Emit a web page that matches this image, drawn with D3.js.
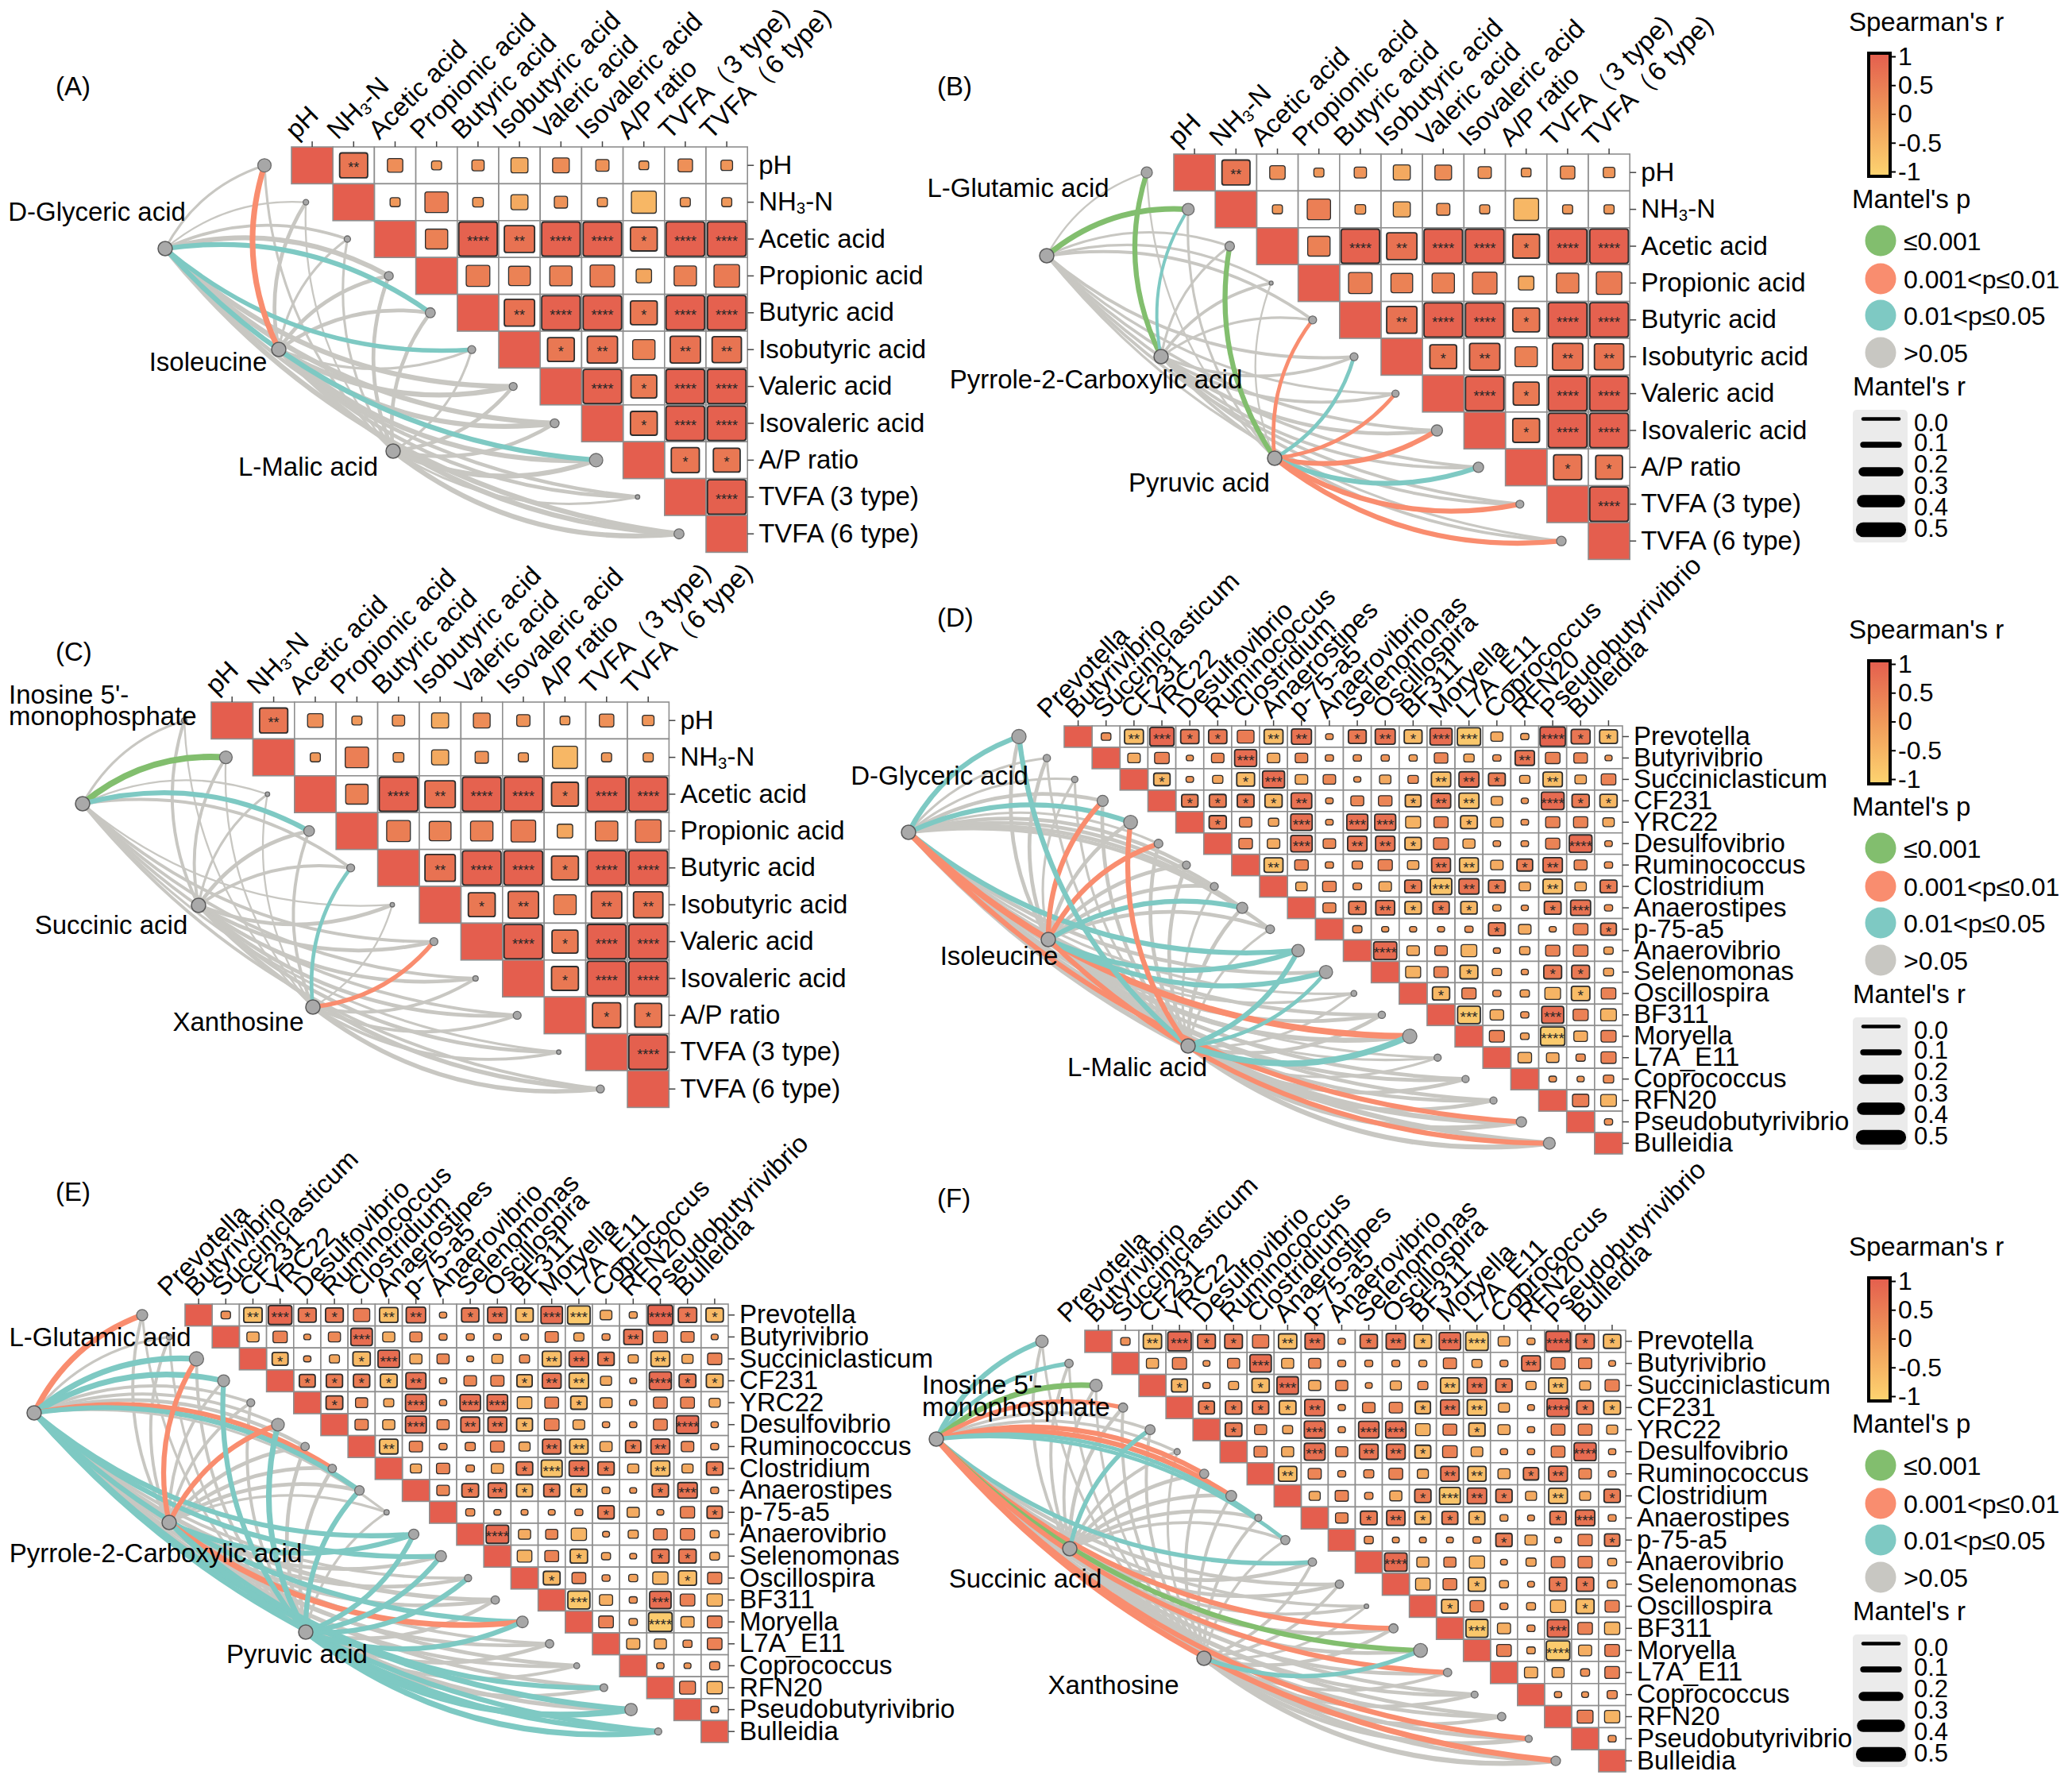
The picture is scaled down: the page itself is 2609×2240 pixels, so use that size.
<!DOCTYPE html>
<html>
<head>
<meta charset="utf-8">
<script src="https://cdn.jsdelivr.net/npm/d3@7"></script>
<style>
  body { margin: 0; background: #fff; }
  svg { font-family: "Liberation Sans", Arial, sans-serif; }
</style>
</head>
<body>
<svg id="chart" width="2609" height="2240"></svg>
<script>
// ---- heatmap variables ----
var envNames = ["pH", "NH3-N", "Acetic acid", "Propionic acid", "Butyric acid", "Isobutyric acid",
  "Valeric acid", "Isovaleric acid", "A/P ratio", "TVFA (3 type)", "TVFA (6 type)"];
var envColNames = ["pH", "NH3-N", "Acetic acid", "Propionic acid", "Butyric acid", "Isobutyric acid",
  "Valeric acid", "Isovaleric acid", "A/P ratio", "TVFA\uFF083 type)", "TVFA\uFF086 type)"];
var genusNames = ["Prevotella", "Butyrivibrio", "Succiniclasticum", "CF231", "YRC22", "Desulfovibrio",
  "Ruminococcus", "Clostridium", "Anaerostipes", "p-75-a5", "Anaerovibrio", "Selenomonas", "Oscillospira",
  "BF311", "Moryella", "L7A_E11", "Coprococcus", "RFN20", "Pseudobutyrivibrio", "Bulleidia"];

// Spearman's r, upper triangle (row i, columns i+1..n-1)
var envR = [
  [0.6, 0.2, 0.03, 0.1, -0.25, 0.24, 0.13, 0.02, 0.17, 0.08],
  [0.03, 0.45, 0.05, -0.25, 0.13, 0.03, -0.5, 0.03, 0.03],
  [0.42, 0.93, 0.67, 0.93, 0.93, 0.56, 0.95, 0.95],
  [0.46, 0.4, 0.42, 0.49, -0.2, 0.42, 0.52],
  [0.67, 0.93, 0.93, 0.56, 0.95, 0.95],
  [0.56, 0.67, 0.42, 0.67, 0.64],
  [0.93, 0.53, 0.95, 0.95],
  [0.56, 0.95, 0.95],
  [0.6, 0.56],
  [0.97]
];
// number of significance stars
var envStars = [
  [2, 0, 0, 0, 0, 0, 0, 0, 0, 0],
  [0, 0, 0, 0, 0, 0, 0, 0, 0],
  [0, 4, 2, 4, 4, 1, 4, 4],
  [0, 0, 0, 0, 0, 0, 0],
  [2, 4, 4, 1, 4, 4],
  [1, 2, 0, 2, 2],
  [4, 1, 4, 4],
  [1, 4, 4],
  [1, 1],
  [4]
];

var genusR = [
  [0.17, -0.6, 0.85, 0.57, 0.57, 0.5, -0.6, 0.65, 0.07, 0.55, 0.65, -0.55, 0.75, -0.8, -0.28, -0.1, 0.9, 0.6, -0.55],
  [-0.3, 0.4, 0.05, 0.3, 0.75, -0.3, 0.3, 0.1, 0.1, 0.1, -0.1, 0.35, -0.2, 0.1, 0.62, 0.4, 0.35, 0.05],
  [-0.48, 0.07, -0.2, -0.55, 0.75, -0.3, 0.3, 0.05, -0.25, 0.2, -0.62, 0.65, 0.5, -0.2, -0.62, -0.25, 0.4],
  [0.48, 0.5, 0.5, -0.52, 0.68, 0.07, 0.32, 0.35, -0.45, 0.62, -0.65, -0.25, 0.05, 0.78, 0.52, -0.52],
  [0.52, 0.3, -0.2, 0.72, 0.07, 0.7, 0.7, -0.42, 0.38, -0.5, -0.3, 0.07, 0.38, 0.38, -0.25],
  [0.35, -0.3, 0.72, 0.3, 0.62, 0.62, -0.48, 0.42, -0.28, 0.07, 0.07, 0.38, 0.78, 0.07],
  [-0.6, 0.35, 0.1, 0.2, 0.38, -0.25, 0.6, -0.6, -0.3, 0.45, 0.62, 0.32, 0.1],
  [-0.25, 0.35, 0.12, -0.3, 0.5, -0.72, 0.65, 0.5, -0.25, -0.62, -0.25, 0.5],
  [0.32, 0.52, 0.6, -0.48, 0.48, -0.48, -0.1, 0.05, 0.5, 0.65, 0.1],
  [0.15, 0.05, 0.05, 0.05, 0.1, 0.5, -0.3, 0.05, 0.4, 0.45],
  [0.8, -0.3, 0.3, -0.45, 0.05, -0.2, 0.38, 0.4, -0.15],
  [-0.42, 0.38, -0.55, -0.15, 0.05, 0.55, 0.55, -0.18],
  [-0.52, 0.38, 0.1, -0.15, -0.45, -0.58, 0.4],
  [-0.78, -0.35, 0.1, 0.75, 0.42, -0.45],
  [0.42, -0.12, -0.85, -0.35, 0.42],
  [-0.35, -0.3, 0.15, 0.42],
  [0.07, 0.05, 0.2],
  [0.48, -0.45],
  [0.1]
];
var genusStars = [
  [0, 2, 3, 1, 1, 0, 2, 2, 0, 1, 2, 1, 3, 3, 0, 0, 4, 1, 1],
  [0, 0, 0, 0, 3, 0, 0, 0, 0, 0, 0, 0, 0, 0, 2, 0, 0, 0],
  [1, 0, 0, 1, 3, 0, 0, 0, 0, 0, 2, 2, 1, 0, 2, 0, 0],
  [1, 1, 1, 1, 2, 0, 0, 0, 1, 2, 2, 0, 0, 4, 1, 1],
  [1, 0, 0, 3, 0, 3, 3, 0, 0, 1, 0, 0, 0, 0, 0],
  [0, 0, 3, 0, 2, 2, 1, 0, 0, 0, 0, 0, 4, 0],
  [2, 0, 0, 0, 0, 0, 2, 2, 0, 1, 2, 0, 0],
  [0, 0, 0, 0, 1, 3, 2, 1, 0, 2, 0, 1],
  [0, 1, 2, 1, 1, 1, 0, 0, 1, 3, 0],
  [0, 0, 0, 0, 0, 1, 0, 0, 0, 1],
  [4, 0, 0, 0, 0, 0, 0, 0, 0],
  [0, 0, 1, 0, 0, 1, 1, 0],
  [1, 0, 0, 0, 0, 1, 0],
  [3, 0, 0, 3, 0, 0],
  [0, 0, 4, 0, 0],
  [0, 0, 0, 0],
  [0, 0, 0],
  [0, 0],
  [0]
];

// ---- Mantel test results: r per link, p class (0: <=0.001, 1: <=0.01, 2: <=0.05, 3: >0.05) ----
var sourcesA = ["D-Glyceric acid", "Isoleucine", "L-Malic acid"];
var mantelR_A = [
  [0.1, 0.05, 0.15, 0.3, 0.3, 0.25, 0.3, 0.3, 0.3, 0.2, 0.3],
  [0.35, 0.2, 0.1, 0.2, 0.2, 0.1, 0.3, 0.3, 0.3, 0.2, 0.3],
  [0.1, 0.05, 0.1, 0.2, 0.2, 0.1, 0.2, 0.2, 0.3, 0.1, 0.3]
];
var mantelP_A = [
  [3, 3, 3, 3, 2, 2, 3, 3, 2, 3, 3],
  [1, 3, 3, 3, 3, 3, 3, 3, 3, 3, 3],
  [3, 3, 3, 3, 3, 3, 3, 3, 3, 3, 3]
];
var sourcesB = ["L-Glutamic acid", "Pyrrole-2-Carboxylic acid", "Pyruvic acid"];
var mantelR_B = [
  [0.05, 0.35, 0.1, 0.1, 0.15, 0.15, 0.1, 0.15, 0.15, 0.15, 0.1],
  [0.3, 0.15, 0.1, 0.15, 0.1, 0.15, 0.15, 0.2, 0.15, 0.15, 0.15],
  [0.05, 0.1, 0.3, 0.05, 0.2, 0.2, 0.2, 0.3, 0.3, 0.3, 0.3]
];
var mantelP_B = [
  [3, 0, 3, 3, 3, 3, 3, 3, 3, 3, 3],
  [0, 2, 3, 3, 3, 3, 3, 3, 3, 3, 3],
  [3, 3, 0, 3, 1, 2, 1, 1, 2, 1, 1]
];
var sourcesC = ["Inosine 5'-monophosphate", "Succinic acid", "Xanthosine"];
var mantelR_C = [
  [0.1, 0.4, 0.05, 0.3, 0.15, 0.05, 0.15, 0.15, 0.15, 0.1, 0.15],
  [0.15, 0.15, 0.1, 0.2, 0.15, 0.2, 0.2, 0.2, 0.2, 0.2, 0.25],
  [0.05, 0.05, 0.05, 0.15, 0.2, 0.05, 0.25, 0.15, 0.15, 0.15, 0.25]
];
var mantelP_C = [
  [3, 0, 3, 2, 3, 3, 3, 3, 3, 3, 3],
  [3, 3, 3, 3, 3, 3, 3, 3, 3, 3, 3],
  [3, 3, 3, 3, 2, 3, 1, 3, 3, 3, 3]
];
var mantelR_D = [
  [0.3, 0.1, 0.1, 0.2, 0.3, 0.1, 0.2, 0.2, 0.2, 0.2, 0.3, 0.2, 0.1, 0.2, 0.4, 0.1, 0.2, 0.2, 0.3, 0.3],
  [0.2, 0.2, 0.1, 0.3, 0.2, 0.3, 0.2, 0.2, 0.3, 0.2, 0.3, 0.3, 0.1, 0.2, 0.3, 0.1, 0.2, 0.2, 0.3, 0.3],
  [0.3, 0.1, 0.1, 0.2, 0.3, 0.2, 0.2, 0.1, 0.2, 0.1, 0.3, 0.2, 0.1, 0.2, 0.4, 0.1, 0.2, 0.2, 0.3, 0.3]
];
var mantelP_D = [
  [2, 3, 3, 3, 2, 3, 3, 3, 3, 3, 2, 3, 3, 3, 1, 3, 3, 3, 1, 3],
  [3, 3, 3, 1, 3, 1, 3, 3, 2, 3, 2, 2, 3, 3, 3, 3, 3, 3, 3, 1],
  [2, 3, 3, 3, 1, 3, 3, 3, 3, 3, 2, 2, 3, 3, 2, 3, 3, 3, 3, 3]
];
var mantelR_E = [
  [0.35, 0.1, 0.35, 0.35, 0.15, 0.15, 0.2, 0.3, 0.3, 0.1, 0.3, 0.3, 0.15, 0.25, 0.3, 0.15, 0.2, 0.2, 0.35, 0.3],
  [0.15, 0.15, 0.3, 0.15, 0.15, 0.3, 0.2, 0.2, 0.2, 0.1, 0.3, 0.2, 0.2, 0.2, 0.35, 0.2, 0.2, 0.3, 0.25, 0.3],
  [0.1, 0.1, 0.15, 0.3, 0.15, 0.35, 0.2, 0.2, 0.3, 0.1, 0.3, 0.3, 0.3, 0.2, 0.3, 0.2, 0.15, 0.2, 0.4, 0.35]
];
var mantelP_E = [
  [1, 3, 2, 2, 3, 3, 3, 1, 2, 3, 2, 2, 3, 3, 2, 3, 3, 3, 2, 2],
  [3, 3, 1, 3, 3, 1, 3, 3, 3, 3, 2, 3, 3, 3, 1, 3, 3, 2, 3, 2],
  [3, 3, 3, 2, 3, 2, 3, 3, 2, 3, 2, 2, 2, 3, 2, 3, 3, 3, 2, 2]
];
var mantelR_F = [
  [0.3, 0.25, 0.35, 0.25, 0.15, 0.15, 0.3, 0.3, 0.2, 0.2, 0.25, 0.2, 0.15, 0.3, 0.3, 0.3, 0.2, 0.2, 0.3, 0.35],
  [0.15, 0.15, 0.15, 0.2, 0.25, 0.15, 0.2, 0.2, 0.2, 0.15, 0.2, 0.2, 0.15, 0.2, 0.2, 0.2, 0.2, 0.2, 0.25, 0.25],
  [0.1, 0.1, 0.1, 0.15, 0.15, 0.1, 0.15, 0.15, 0.15, 0.1, 0.15, 0.15, 0.1, 0.2, 0.25, 0.15, 0.2, 0.2, 0.25, 0.3]
];
var mantelP_F = [
  [2, 2, 0, 1, 3, 3, 1, 1, 2, 2, 2, 3, 3, 1, 0, 1, 3, 3, 1, 1],
  [3, 3, 3, 3, 2, 3, 3, 3, 3, 3, 3, 3, 3, 3, 3, 3, 3, 3, 3, 3],
  [3, 3, 3, 3, 3, 3, 3, 3, 3, 3, 3, 3, 3, 3, 2, 3, 3, 3, 3, 3]
];

// end-node sizes (radius)
var dotA = [8.4, 3.5, 4, 5.6, 6.3, 5, 5, 5.6, 8.4, 2.8, 6.3];
var dotB = [7, 7.5, 6, 2.5, 5, 5, 4.5, 7, 6.5, 5, 6];
var dotC = [3.4, 8, 2.8, 6.7, 5, 2.8, 5, 3.4, 5, 2.8, 5];
var dotD = [9, 4.6, 4, 7, 8.7, 5.5, 5, 5, 7, 5.5, 7.8, 8.3, 3.7, 4.6, 9, 4.5, 4.5, 4.5, 6.5, 7.5];
var dotE = [7, 3.7, 9, 7.5, 5, 8, 5.3, 5.3, 6, 3.3, 6.5, 7, 4.5, 5.3, 7.3, 5.3, 3.7, 4.9, 7.8, 4.5];
var dotF = [7.8, 5.3, 7.8, 5.8, 6.3, 3.9, 5.8, 6.8, 4.4, 5.8, 5.3, 5.3, 2.9, 5.8, 8.7, 5.3, 4.4, 5.3, 4.5, 6];

// legend content
var barTicks = [1, 0.5, 0, -0.5, -1];
var pLabels = ["\u22640.001", "0.001<p\u22640.01", "0.01<p\u22640.05", ">0.05"];
var rKeys = [0, 0.1, 0.25, 0.4, 0.5];
var rKeyLabels = ["0.0", "0.1", "0.2", "0.3", "0.4", "0.5"];

// ---- styles ----
var color = d3.scaleLinear().domain([-1, 0, 1]).range(["#FDD470", "#F09A5A", "#E45E4E"]).clamp(true);
var pColors = ["#82BE6E", "#F98D6F", "#7EC9C3", "#C8C7C2"];
var linkWidth = d3.scaleLinear().domain([0, 0.5]).range([1.5, 9.5]);
var keyWidth = d3.scaleLinear().domain([0, 0.5]).range([4.6, 18.3]);

var svg = d3.select("#chart");

var grad = svg.append("defs").append("linearGradient")
  .attr("id", "spGrad").attr("x1", 0).attr("y1", 1).attr("x2", 0).attr("y2", 0);
[-1, -0.5, 0, 0.5, 1].forEach(function (v) {
  grad.append("stop").attr("offset", (v + 1) / 2).attr("stop-color", color(v));
});

// layout of the six panels
var panels = [
  { tag: "(A)", tx: 70, ty: 120, x0: 367, y0: 185, cw: 52.2, rh: 46.4, lx: -20, ly: -8, sfs: 18, endOff: 34,
    rows: envNames, cols: envColNames, r: envR, stars: envStars,
    src: [[208, 313], [351, 440], [495, 568]], mr: mantelR_A, mp: mantelP_A, dots: dotA,
    labels: [[sourcesA[0], 122, 278, "middle"], [sourcesA[1], 262, 467, "middle"], [sourcesA[2], 388, 599, "middle"]] },
  { tag: "(B)", tx: 1180, ty: 120, x0: 1478, y0: 194, cw: 52.2, rh: 46.4, lx: -20, ly: -8, sfs: 18, endOff: 34,
    rows: envNames, cols: envColNames, r: envR, stars: envStars,
    src: [[1318, 322], [1462, 449], [1605, 577]], mr: mantelR_B, mp: mantelP_B, dots: dotB,
    labels: [[sourcesB[0], 1282, 248, "middle"], [sourcesB[1], 1380, 489, "middle"], [sourcesB[2], 1510, 619, "middle"]] },
  { tag: "(C)", tx: 70, ty: 832, x0: 266, y0: 884, cw: 52.4, rh: 46.4, lx: -20, ly: -8, sfs: 18, endOff: 34,
    rows: envNames, cols: envColNames, r: envR, stars: envStars,
    src: [[104, 1012], [250, 1140], [394, 1268]], mr: mantelR_C, mp: mantelP_C, dots: dotC,
    labels: [["Inosine 5'-", 11, 886, "start"], ["monophosphate", 11, 913, "start"], [sourcesC[1], 140, 1176, "middle"], [sourcesC[2], 300, 1298, "middle"]] },
  { tag: "(D)", tx: 1180, ty: 789, x0: 1340, y0: 914, cw: 35.15, rh: 26.95, lx: -38, ly: -8, sfs: 19, endOff: 57,
    rows: genusNames, cols: genusNames, r: genusR, stars: genusStars,
    src: [[1144, 1048], [1320, 1183], [1496, 1317]], mr: mantelR_D, mp: mantelP_D, dots: dotD,
    labels: [[sourcesA[0], 1183, 988, "middle"], [sourcesA[1], 1258, 1215, "middle"], [sourcesA[2], 1432, 1355, "middle"]] },
  { tag: "(E)", tx: 70, ty: 1512, x0: 233, y0: 1642, cw: 34.2, rh: 27.6, lx: -38, ly: -8, sfs: 19, endOff: 54,
    rows: genusNames, cols: genusNames, r: genusR, stars: genusStars,
    src: [[43, 1779], [213, 1917], [385, 2055]], mr: mantelR_E, mp: mantelP_E, dots: dotE,
    labels: [[sourcesB[0], 126, 1695, "middle"], [sourcesB[1], 196, 1967, "middle"], [sourcesB[2], 374, 2094, "middle"]] },
  { tag: "(F)", tx: 1180, ty: 1520, x0: 1366, y0: 1675, cw: 34.05, rh: 27.8, lx: -38, ly: -8, sfs: 19, endOff: 54,
    rows: genusNames, cols: genusNames, r: genusR, stars: genusStars,
    src: [[1179, 1812], [1347, 1950], [1516, 2088]], mr: mantelR_F, mp: mantelP_F, dots: dotF,
    labels: [["Inosine 5'-", 1161, 1755, "start"], ["monophosphate", 1161, 1783, "start"], [sourcesC[1], 1291, 1999, "middle"], [sourcesC[2], 1402, 2133, "middle"]] }
];

var FS = 33;

// write "NH3-N" with a subscript 3
function setLabel(sel, s, fs) {
  sel.text(null);
  if (s.indexOf("NH3") === 0) {
    sel.append("tspan").text("NH");
    sel.append("tspan").text("3").attr("font-size", fs * 0.62).attr("dy", fs * 0.12);
    sel.append("tspan").text(s.slice(3)).attr("dy", -fs * 0.12);
  } else {
    sel.text(s);
  }
}

function curvePath(sx, sy, ex, ey, upper) {
  var dx = ex - sx, dy = ey - sy;
  var px = upper ? dy : -dy, py = upper ? -dx : dx;
  var k = 0.2;
  var cx = (sx + ex) / 2 + px * k, cy = (sy + ey) / 2 + py * k;
  var p = d3.path();
  p.moveTo(sx, sy);
  p.quadraticCurveTo(cx, cy, ex, ey);
  return p.toString();
}

function drawPanel(P) {
  var g = svg.append("g");
  var n = P.rows.length;
  var x = d3.scaleBand().domain(d3.range(n)).range([P.x0, P.x0 + n * P.cw]);
  var y = d3.scaleBand().domain(d3.range(n)).range([P.y0, P.y0 + n * P.rh]);

  // panel tag
  g.append("text").attr("x", P.tx).attr("y", P.ty).attr("font-size", FS).text(P.tag);

  // mantel links, grey ones underneath
  var links = [];
  P.mr.forEach(function (row, s) {
    row.forEach(function (r, t) { links.push({ s: s, t: t, r: r, p: P.mp[s][t] }); });
  });
  links.sort(function (a, b) { return (a.p === 3 ? 0 : 1) - (b.p === 3 ? 0 : 1); });

  var ex = function (t) { return x(t) - P.endOff; };
  var ey = function (t) { return y(t) + y.bandwidth() / 2; };

  g.append("g").selectAll("path").data(links).join("path")
    .attr("d", function (d) {
      return curvePath(P.src[d.s][0], P.src[d.s][1], ex(d.t), ey(d.t), d.t < (n - 1) / 2);
    })
    .attr("fill", "none")
    .attr("stroke", function (d) { return pColors[d.p]; })
    .attr("stroke-width", function (d) { return linkWidth(d.r); });

  // end nodes
  g.append("g").selectAll("circle").data(P.dots).join("circle")
    .attr("cx", function (d, i) { return ex(i); })
    .attr("cy", function (d, i) { return ey(i); })
    .attr("r", function (d) { return d; })
    .attr("fill", "#A7A7A7").attr("stroke", "#6a6a6a").attr("stroke-width", 1.3);

  // source nodes
  g.append("g").selectAll("circle").data(P.src).join("circle")
    .attr("cx", function (d) { return d[0]; })
    .attr("cy", function (d) { return d[1]; })
    .attr("r", 9)
    .attr("fill", "#A9A9A9").attr("stroke", "#595959").attr("stroke-width", 1.5);

  g.append("g").selectAll("text").data(P.labels).join("text")
    .attr("x", function (d) { return d[1]; })
    .attr("y", function (d) { return d[2]; })
    .attr("text-anchor", function (d) { return d[3]; })
    .attr("font-size", FS)
    .text(function (d) { return d[0]; });

  // heatmap cells
  var cells = [];
  P.r.forEach(function (row, i) {
    row.forEach(function (r, k) { cells.push({ i: i, j: i + 1 + k, r: r, s: P.stars[i][k] }); });
  });
  var hg = g.append("g");
  hg.selectAll("rect.bg").data(cells).join("rect").attr("class", "bg")
    .attr("x", function (d) { return x(d.j); })
    .attr("y", function (d) { return y(d.i); })
    .attr("width", x.bandwidth()).attr("height", y.bandwidth())
    .attr("fill", "#fff").attr("stroke", "#8e8e8e").attr("stroke-width", 1.6);
  hg.selectAll("rect.diag").data(d3.range(n)).join("rect").attr("class", "diag")
    .attr("x", function (d) { return x(d); })
    .attr("y", function (d) { return y(d); })
    .attr("width", x.bandwidth()).attr("height", y.bandwidth())
    .attr("fill", color(1)).attr("stroke", "#8e8e8e").attr("stroke-width", 1.6);

  var frac = function (r) { return Math.min(0.93, 0.22 + 0.76 * Math.abs(r)); };
  hg.selectAll("rect.sq").data(cells).join("rect").attr("class", "sq")
    .attr("x", function (d) { return x(d.j) + x.bandwidth() * (1 - frac(d.r)) / 2; })
    .attr("y", function (d) { return y(d.i) + y.bandwidth() * (1 - frac(d.r)) / 2; })
    .attr("width", function (d) { return x.bandwidth() * frac(d.r); })
    .attr("height", function (d) { return y.bandwidth() * frac(d.r); })
    .attr("rx", 3)
    .attr("fill", function (d) { return color(d.r); })
    .attr("stroke", "#2e2e2e")
    .attr("stroke-width", function (d) { return d.s > 0 ? 1.8 : 1.3; });

  hg.selectAll("text.star").data(cells.filter(function (d) { return d.s > 0; })).join("text")
    .attr("class", "star")
    .attr("x", function (d) { return x(d.j) + x.bandwidth() / 2; })
    .attr("y", function (d) { return y(d.i) + y.bandwidth() / 2 + P.sfs * 0.5; })
    .attr("text-anchor", "middle")
    .attr("font-size", P.sfs)
    .attr("fill", "#262626")
    .text(function (d) { return "*".repeat(d.s); });

  // column labels (top axis)
  var gx = g.append("g").attr("transform", "translate(0," + P.y0 + ")")
    .call(d3.axisTop(x).tickSize(7).tickFormat(function (i) { return P.cols[i]; }));
  gx.attr("font-size", FS).attr("font-family", null);
  gx.select(".domain").remove();
  gx.selectAll(".tick line").attr("stroke", "#444").attr("stroke-width", 1.5);
  gx.selectAll(".tick text")
    .attr("x", 0).attr("y", 0).attr("dy", null)
    .attr("text-anchor", "start")
    .attr("fill", "#000")
    .attr("transform", "translate(" + P.lx + "," + P.ly + ") rotate(-45)")
    .each(function (i) { setLabel(d3.select(this), P.cols[i], FS); });

  // row labels (right axis)
  var gy = g.append("g").attr("transform", "translate(" + (P.x0 + n * P.cw) + ",0)")
    .call(d3.axisRight(y).tickSize(8).tickPadding(6).tickFormat(function (i) { return P.rows[i]; }));
  gy.attr("font-size", FS).attr("font-family", null);
  gy.select(".domain").remove();
  gy.selectAll(".tick line").attr("stroke", "#444").attr("stroke-width", 1.5);
  gy.selectAll(".tick text").attr("fill", "#000")
    .each(function (i) { setLabel(d3.select(this), P.rows[i], FS); });
}

function drawLegend(oy) {
  var g = svg.append("g").attr("transform", "translate(0," + oy + ")");
  g.append("text").attr("x", 2328).attr("y", 39).attr("font-size", FS).text("Spearman's r");
  g.append("rect").attr("x", 2353).attr("y", 67).attr("width", 27).attr("height", 155)
    .attr("fill", "url(#spGrad)").attr("stroke", "#000").attr("stroke-width", 4);
  var cs = d3.scaleLinear().domain([-1, 1]).range([216, 71]);
  var ga = g.append("g").attr("transform", "translate(2382,0)")
    .call(d3.axisRight(cs).tickValues(barTicks).tickSize(5).tickPadding(3)
      .tickFormat(function (d) { return String(d); }));
  ga.attr("font-size", 32).attr("font-family", null);
  ga.select(".domain").remove();
  ga.selectAll(".tick line").attr("stroke", "#000").attr("stroke-width", 2);
  ga.selectAll(".tick text").attr("fill", "#000");

  g.append("text").attr("x", 2332).attr("y", 262).attr("font-size", FS).text("Mantel's p");
  var py = [303, 351, 397, 444];
  g.selectAll("circle.pk").data(pLabels).join("circle").attr("class", "pk")
    .attr("cx", 2368).attr("cy", function (d, i) { return py[i]; }).attr("r", 19.5)
    .attr("fill", function (d, i) { return pColors[i]; });
  g.selectAll("text.pk").data(pLabels).join("text").attr("class", "pk")
    .attr("x", 2397).attr("y", function (d, i) { return py[i] + 11.5; })
    .attr("font-size", 32).text(function (d) { return d; });

  g.append("text").attr("x", 2333).attr("y", 498).attr("font-size", FS).text("Mantel's r");
  g.append("rect").attr("x", 2333).attr("y", 516).attr("width", 69).attr("height", 167)
    .attr("rx", 5).attr("fill", "#EBEBEB");
  var ky = [527.5, 560, 594, 631, 667];
  g.selectAll("line.rk").data(rKeys).join("line").attr("class", "rk")
    .attr("x1", 2346).attr("x2", 2391)
    .attr("y1", function (d, i) { return ky[i]; }).attr("y2", function (d, i) { return ky[i]; })
    .attr("stroke", "#000").attr("stroke-linecap", "round")
    .attr("stroke-width", function (d) { return keyWidth(d); });
  var ly = [532, 557, 584, 611, 638, 665];
  g.selectAll("text.rk").data(rKeyLabels).join("text").attr("class", "rk")
    .attr("x", 2410).attr("y", function (d, i) { return ly[i] + 11; })
    .attr("font-size", 31).text(function (d) { return d; });
}

panels.forEach(drawPanel);
[0, 765, 1542].forEach(drawLegend);
</script>
</body>
</html>
